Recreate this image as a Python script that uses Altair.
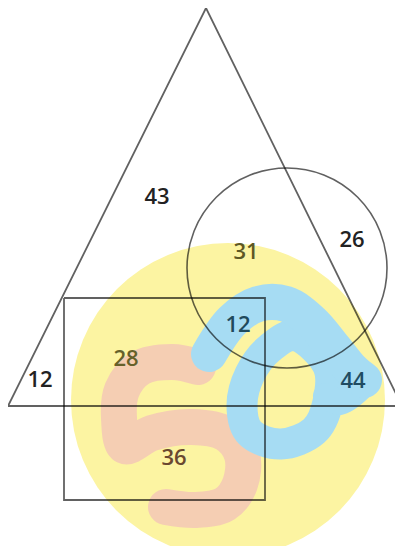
import altair as alt
import pandas as pd

# ---- Venn outlines (pixel-space coordinates of the picture) ----
tri_x = [206, 402, 8, 206]
tri_y = [8, 406, 406, 8]
rect_x = [64, 265, 265, 64, 64]
rect_y = [298, 298, 500, 500, 298]
circ_cx, circ_cy, circ_r = 287, 268, 100

# ---- region counts ----
label_text = ["43", "26", "31", "12", "28", "12", "44", "36"]
label_x = [157, 352, 246, 238, 126, 40, 353, 174]
label_y = [197, 240, 252, 325, 359, 380, 381, 458]
label_color = ["#222222", "#222222", "#5e5824", "#1f4a5c", "#66612a",
               "#222222", "#1f4c62", "#6a4830"]

# ---- watermark logo ----
logo_cx, logo_cy, logo_r = 228, 400, 157
s_x = [198, 172, 140, 122, 119, 125, 152, 192, 226, 242, 240, 225, 196, 166]
s_y = [367, 362, 368, 390, 418, 446, 433, 427, 434, 455, 484, 504, 510, 507]
a_hook_x = [209, 232, 258, 286, 312, 334, 352, 364]
a_hook_y = [354, 321, 304, 304, 322, 348, 370, 380]
a_bowl_x = [297, 270, 250, 242, 250, 281, 314, 328, 328]
a_bowl_y = [336, 348, 374, 405, 433, 444, 431, 402, 366]
a_foot_x = [326, 340, 360]
a_foot_y = [396, 402, 388]

xs = alt.Scale(domain=[8, 395], nice=False, zero=False)
ys = alt.Scale(domain=[8, 546], nice=False, zero=False, reverse=True)


def X():
    return alt.X("x:Q", scale=xs, axis=None)


def Y():
    return alt.Y("y:Q", scale=ys, axis=None)


def path_df(xv, yv, name):
    return pd.DataFrame({"x": xv, "y": yv, "o": list(range(len(xv))), "g": name})


logo_df = pd.DataFrame({"x": [logo_cx], "y": [logo_cy]})
logo = alt.Chart(logo_df).mark_point(
    shape="circle", filled=True, color="#fcf4a2", opacity=1, strokeWidth=0
).encode(x=X(), y=Y(), size=alt.value((2 * logo_r) ** 2))

s_mark = alt.Chart(path_df(s_x, s_y, "s")).mark_line(
    color="#f5ceb3", strokeWidth=36, strokeCap="round", strokeJoin="round",
    interpolate="catmull-rom"
).encode(x=X(), y=Y(), order="o:Q")

a_hook = alt.Chart(path_df(a_hook_x, a_hook_y, "hook")).mark_line(
    color="#a6dcf3", strokeWidth=36, strokeCap="round", strokeJoin="round",
    interpolate="catmull-rom"
).encode(x=X(), y=Y(), order="o:Q")

a_bowl = alt.Chart(path_df(a_bowl_x, a_bowl_y, "bowl")).mark_line(
    color="#a6dcf3", strokeWidth=31, strokeCap="round", strokeJoin="round",
    interpolate="cardinal-closed"
).encode(x=X(), y=Y(), order="o:Q")

a_foot = alt.Chart(path_df(a_foot_x, a_foot_y, "foot")).mark_line(
    color="#a6dcf3", strokeWidth=26, strokeCap="round", strokeJoin="round",
    interpolate="catmull-rom"
).encode(x=X(), y=Y(), order="o:Q")

outline_df = pd.concat([path_df(tri_x, tri_y, "tri"), path_df(rect_x, rect_y, "rect")])
outlines = alt.Chart(outline_df).mark_line(
    color="#000000", opacity=0.62, strokeWidth=1.8, strokeJoin="miter"
).encode(x=X(), y=Y(), order="o:Q", detail="g:N")

circ_df = pd.DataFrame({"x": [circ_cx], "y": [circ_cy]})
circle = alt.Chart(circ_df).mark_point(
    shape="circle", filled=False, color="#000000", opacity=0.62, strokeWidth=1.6
).encode(x=X(), y=Y(), size=alt.value((2 * circ_r) ** 2))

lab_df = pd.DataFrame({"x": label_x, "y": label_y, "t": label_text, "c": label_color})
labels = alt.Chart(lab_df).mark_text(
    font="Open Sans", fontSize=22, fontWeight=600, align="center", baseline="middle"
).encode(x=X(), y=Y(), text="t:N", color=alt.Color("c:N", scale=None))

chart = alt.layer(logo, s_mark, a_bowl, a_foot, a_hook, outlines, circle, labels).properties(
    width=387, height=538, padding=0, autosize=alt.AutoSizeParams(type="none"),
    background="white"
).configure_view(stroke=None)

chart.save("out.html", embed_options={"renderer": "svg", "actions": False})
